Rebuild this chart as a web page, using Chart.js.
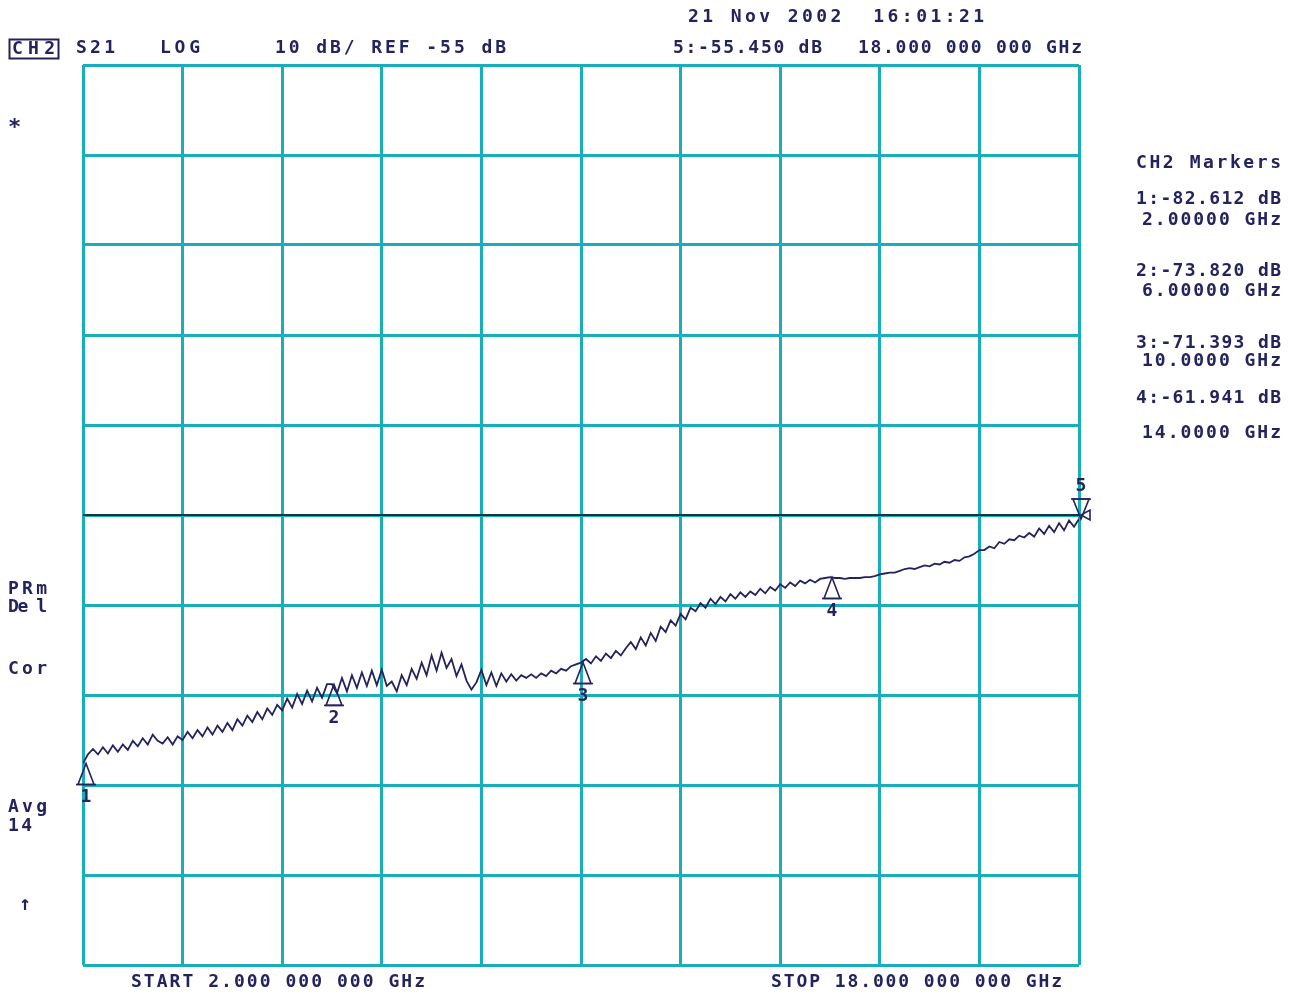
<!DOCTYPE html>
<html>
<head>
<meta charset="utf-8">
<script src="https://cdn.jsdelivr.net/npm/chart.js@4.4.1/dist/chart.umd.min.js"></script>
<style>
  html, body { margin: 0; padding: 0; background: #fff; }
  #wrap { width: 1300px; height: 995px; position: relative; }
</style>
</head>
<body>
<div id="wrap"><canvas id="vna"></canvas></div>
<script>
// sweep 2 .. 18 GHz, 201 points, S21 log magnitude (dB)
const startGHz = 2;
const stopGHz = 18;
const s21Db = [
  -82.6, -81.6, -81.0, -81.6, -80.8, -81.5, -80.6, -81.3, -80.5, -81.1,
  -80.1, -80.7, -79.8, -80.5, -79.4, -80.1, -80.4, -79.7, -80.5, -79.6,
  -80.0, -79.1, -79.8, -78.9, -79.6, -78.6, -79.4, -78.4, -79.1, -78.1,
  -78.9, -77.7, -78.4, -77.3, -78.0, -76.9, -77.7, -76.5, -77.2, -76.1,
  -76.7, -75.4, -76.4, -74.9, -76.0, -74.5, -75.7, -74.2, -75.3, -73.8,
  -73.8, -74.8, -73.1, -74.6, -72.8, -74.2, -72.5, -74.0, -72.3, -73.9,
  -72.2, -74.0, -73.5, -74.6, -72.8, -73.9, -72.1, -73.2, -71.4, -72.8,
  -70.6, -72.3, -70.3, -72.0, -71.0, -72.9, -71.6, -73.4, -74.4, -73.6,
  -72.2, -73.9, -72.5, -74.0, -72.6, -73.5, -72.7, -73.4, -72.8, -73.1,
  -72.7, -73.1, -72.6, -72.9, -72.3, -72.6, -72.1, -72.3, -71.8, -71.6,
  -71.4, -71.0, -71.5, -70.7, -71.2, -70.4, -70.9, -70.1, -70.6, -69.8,
  -69.1, -69.9, -68.6, -69.5, -68.1, -69.0, -67.4, -68.0, -66.7, -67.3,
  -66.0, -66.6, -65.3, -65.7, -64.8, -65.3, -64.3, -64.9, -64.1, -64.6,
  -63.8, -64.3, -63.6, -64.1, -63.5, -63.9, -63.2, -63.7, -63.0, -63.4,
  -62.7, -63.1, -62.5, -62.9, -62.3, -62.6, -62.2, -62.5, -62.1, -62.0,
  -61.9, -62.0, -62.0, -62.1, -62.0, -62.0, -62.0, -61.9, -61.9, -61.8,
  -61.6, -61.5, -61.4, -61.4, -61.2, -61.0, -60.9, -61.0, -60.8, -60.6,
  -60.7, -60.4, -60.5, -60.2, -60.3, -60.0, -60.1, -59.7, -59.6, -59.3,
  -58.9, -58.9, -58.5, -58.7, -58.0, -58.2, -57.7, -57.8, -57.3, -57.5,
  -57.0, -57.4, -56.5, -57.1, -56.2, -56.9, -55.9, -56.7, -55.6, -56.3, -55.45
];
const markerGHz = [2, 6, 10, 14, 18];
const markerDb = [-82.612, -73.820, -71.393, -61.941, -55.450];
const refLevelDb = -55;
const dbPerDiv = 10;

const step = (stopGHz - startGHz) / (s21Db.length - 1);
const trace = s21Db.map((v, i) => ({ x: startGHz + i * step, y: v }));

const INK = '#23235e';
const GRID = '#18afbb';
const FONT = '"DejaVu Sans Mono", "Liberation Mono", monospace';

function txt(ctx, s, x, y, w, size) {
    ctx.font = 'bold ' + (size || 18) + 'px ' + FONT;
    ctx.letterSpacing = '0px';
    const m = ctx.measureText(s).width;
    if (w && s.length > 1) ctx.letterSpacing = ((w - m) / (s.length - 1)) + 'px';
    ctx.textBaseline = 'middle';
    ctx.textAlign = 'left';
    ctx.fillText(s, x, y);
    ctx.letterSpacing = '0px';
}

const fmtDb = (i) => (i + 1) + ':' + markerDb[i].toFixed(3) + ' dB';
const fmtGHz = (i) => markerGHz[i].toPrecision(6) + ' GHz';

const annotations = {
    id: 'annotations',
    afterDatasetsDraw(chart) {
        const ctx = chart.ctx;
        const xs = chart.scales.x, ys = chart.scales.y;
        ctx.save();
        ctx.strokeStyle = INK;
        ctx.fillStyle = INK;
        ctx.lineWidth = 1.6;
        // marker triangles
        markerGHz.forEach((f, i) => {
            const px = xs.getPixelForValue(f) + (i === 0 ? 3 : 2);
            const py = ys.getPixelForValue(markerDb[i]);
            const down = i === markerGHz.length - 1;
            const h = down ? -20 : 21;
            ctx.beginPath();
            ctx.moveTo(px, py);
            ctx.lineTo(px - 8, py + h);
            ctx.lineTo(px + 8, py + h);
            ctx.closePath();
            ctx.stroke();
            ctx.beginPath();
            ctx.moveTo(px - 10, py + h);
            ctx.lineTo(px + 10, py + h);
            ctx.stroke();
            ctx.font = 'bold 18px ' + FONT;
            ctx.textAlign = 'center';
            ctx.textBaseline = 'middle';
            ctx.fillText(String(i + 1), px, py + h + (down ? -13 : 13));
        });
        // reference level indicator
        const ry = ys.getPixelForValue(refLevelDb);
        const rx = chart.chartArea.right;
        ctx.beginPath();
        ctx.moveTo(rx + 2, ry);
        ctx.lineTo(rx + 11, ry - 5);
        ctx.lineTo(rx + 11, ry + 5);
        ctx.closePath();
        ctx.stroke();
        ctx.restore();
    },
    afterDraw(chart) {
        const ctx = chart.ctx;
        ctx.save();
        ctx.fillStyle = INK;
        ctx.strokeStyle = INK;
        txt(ctx, '21 Nov 2002  16:01:21', 688, 17, 296);
        ctx.lineWidth = 2;
        ctx.strokeRect(9.5, 39.5, 49, 19);
        txt(ctx, 'CH2', 12, 49, 43);
        txt(ctx, 'S21', 76, 48, 39);
        txt(ctx, 'LOG', 160, 48, 40);
        txt(ctx, dbPerDiv + ' dB/ REF ' + refLevelDb + ' dB', 275, 48, 231);
        txt(ctx, fmtDb(4), 673, 48, 149);
        txt(ctx, stopGHz.toFixed(3) + ' 000 000 GHz', 858, 48, 224);
        txt(ctx, '*', 8, 128, 0, 22);

        txt(ctx, 'CH2 Markers', 1136, 163, 145);
        const rows = [[199, 220], [271, 291], [343, 361], [398, 433]];
        rows.forEach((r, i) => {
            txt(ctx, fmtDb(i), 1136, r[0], 145);
            txt(ctx, fmtGHz(i), 1142, r[1], 139);
        });

        txt(ctx, 'PRm', 8, 589, 39);
        txt(ctx, 'De l', 8, 607, 39);
        txt(ctx, 'Cor', 8, 669, 39);
        txt(ctx, 'Avg', 8, 807, 39);
        txt(ctx, '14', 8, 826, 24);
        txt(ctx, '↑', 19, 905, 0, 20);

        txt(ctx, 'START ' + startGHz.toFixed(3) + ' 000 000 GHz', 131, 982, 294);
        txt(ctx, 'STOP ' + stopGHz.toFixed(3) + ' 000 000 GHz', 771, 982, 291);
        ctx.restore();
    }
};

new Chart(document.getElementById('vna').getContext('2d'), {
    type: 'line',
    data: {
        datasets: [
            {
                label: 'S21',
                data: trace,
                borderColor: INK,
                borderWidth: 1.8,
                pointRadius: 0,
                tension: 0,
                order: 1,
            },
            {
                label: 'REF',
                data: [{ x: startGHz, y: refLevelDb }, { x: stopGHz, y: refLevelDb }],
                borderColor: '#111',
                borderWidth: 1.6,
                pointRadius: 0,
                order: 2,
            }
        ]
    },
    options: {
        responsive: true,
        maintainAspectRatio: false,
        animation: false,
        events: [],
        layout: { padding: { left: 83, top: 65, right: 221, bottom: 30 } },
        plugins: { legend: { display: false }, tooltip: { enabled: false } },
        scales: {
            x: {
                type: 'linear',
                min: startGHz,
                max: stopGHz,
                ticks: { display: false, stepSize: (stopGHz - startGHz) / 10 },
                grid: { color: GRID, lineWidth: 3, drawTicks: false },
                border: { display: false }
            },
            y: {
                min: refLevelDb - 5 * dbPerDiv,
                max: refLevelDb + 5 * dbPerDiv,
                ticks: { display: false, stepSize: dbPerDiv },
                grid: { color: GRID, lineWidth: 3, drawTicks: false },
                border: { display: false }
            }
        }
    },
    plugins: [annotations]
});
</script>
</body>
</html>
